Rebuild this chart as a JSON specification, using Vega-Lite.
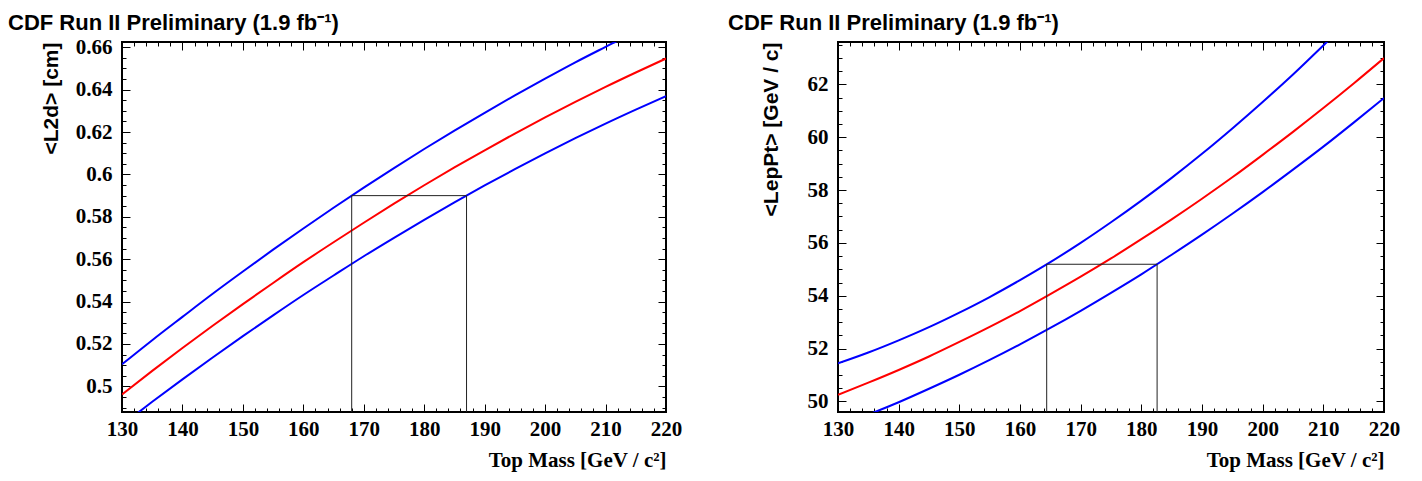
{
  "$schema": "https://vega.github.io/schema/vega-lite/v6.json",
  "background": "white",
  "padding": {"left": 7, "top": 10, "right": 5, "bottom": 5},
  "spacing": 172,
  "bounds": "flush",
  "config": {
    "view": {"stroke": "black", "strokeWidth": 2},
    "axis": {"labelFont": "Liberation Serif", "labelFontWeight": "bold", "labelFontSize": 21, "labelColor": "black", "grid": false, "tickColor": "black", "titleColor": "black", "labelFlush": false, "labelOverlap": false}
  },
  "datasets": {
    "l2d": [
      {"m":130,"v":0.4962,"c":"central"},{"m":135,"v":0.5073,"c":"central"},{"m":140,"v":0.5181,"c":"central"},{"m":145,"v":0.5286,"c":"central"},{"m":150,"v":0.5388,"c":"central"},{"m":155,"v":0.5488,"c":"central"},{"m":160,"v":0.5586,"c":"central"},{"m":165,"v":0.568,"c":"central"},{"m":170,"v":0.5772,"c":"central"},{"m":175,"v":0.5862,"c":"central"},{"m":180,"v":0.5949,"c":"central"},{"m":185,"v":0.6033,"c":"central"},{"m":190,"v":0.6114,"c":"central"},{"m":195,"v":0.6193,"c":"central"},{"m":200,"v":0.6269,"c":"central"},{"m":205,"v":0.6342,"c":"central"},{"m":210,"v":0.6413,"c":"central"},{"m":215,"v":0.6481,"c":"central"},{"m":220,"v":0.6547,"c":"central"},
      {"m":130,"v":0.5104,"c":"upper"},{"m":135,"v":0.5218,"c":"upper"},{"m":140,"v":0.5328,"c":"upper"},{"m":145,"v":0.5437,"c":"upper"},{"m":150,"v":0.5542,"c":"upper"},{"m":155,"v":0.5645,"c":"upper"},{"m":160,"v":0.5745,"c":"upper"},{"m":165,"v":0.5843,"c":"upper"},{"m":170,"v":0.5938,"c":"upper"},{"m":175,"v":0.603,"c":"upper"},{"m":180,"v":0.612,"c":"upper"},{"m":185,"v":0.6207,"c":"upper"},{"m":190,"v":0.6291,"c":"upper"},{"m":195,"v":0.6373,"c":"upper"},{"m":200,"v":0.6452,"c":"upper"},{"m":205,"v":0.6529,"c":"upper"},{"m":210,"v":0.6602,"c":"upper"},{"m":215,"v":0.6674,"c":"upper"},{"m":220,"v":0.6742,"c":"upper"},
      {"m":130,"v":0.4818,"c":"lower"},{"m":135,"v":0.4927,"c":"lower"},{"m":140,"v":0.5033,"c":"lower"},{"m":145,"v":0.5136,"c":"lower"},{"m":150,"v":0.5237,"c":"lower"},{"m":155,"v":0.5335,"c":"lower"},{"m":160,"v":0.5431,"c":"lower"},{"m":165,"v":0.5523,"c":"lower"},{"m":170,"v":0.5614,"c":"lower"},{"m":175,"v":0.5701,"c":"lower"},{"m":180,"v":0.5786,"c":"lower"},{"m":185,"v":0.5868,"c":"lower"},{"m":190,"v":0.5948,"c":"lower"},{"m":195,"v":0.6025,"c":"lower"},{"m":200,"v":0.6099,"c":"lower"},{"m":205,"v":0.6171,"c":"lower"},{"m":210,"v":0.624,"c":"lower"},{"m":215,"v":0.6306,"c":"lower"},{"m":220,"v":0.637,"c":"lower"}
    ],
    "box_l2d": [
      {"m":168,"v":0.48,"o":1},{"m":168,"v":0.59,"o":2},{"m":187,"v":0.59,"o":3},{"m":187,"v":0.48,"o":4}
    ],
    "leppt": [
      {"m":130,"v":50.25,"c":"central"},{"m":135,"v":50.71,"c":"central"},{"m":140,"v":51.19,"c":"central"},{"m":145,"v":51.7,"c":"central"},{"m":150,"v":52.25,"c":"central"},{"m":155,"v":52.82,"c":"central"},{"m":160,"v":53.42,"c":"central"},{"m":165,"v":54.06,"c":"central"},{"m":170,"v":54.72,"c":"central"},{"m":175,"v":55.41,"c":"central"},{"m":180,"v":56.14,"c":"central"},{"m":185,"v":56.89,"c":"central"},{"m":190,"v":57.67,"c":"central"},{"m":195,"v":58.48,"c":"central"},{"m":200,"v":59.33,"c":"central"},{"m":205,"v":60.2,"c":"central"},{"m":210,"v":61.1,"c":"central"},{"m":215,"v":62.03,"c":"central"},{"m":220,"v":62.99,"c":"central"},
      {"m":130,"v":51.44,"c":"upper"},{"m":135,"v":51.85,"c":"upper"},{"m":140,"v":52.31,"c":"upper"},{"m":145,"v":52.81,"c":"upper"},{"m":150,"v":53.36,"c":"upper"},{"m":155,"v":53.95,"c":"upper"},{"m":160,"v":54.59,"c":"upper"},{"m":165,"v":55.27,"c":"upper"},{"m":170,"v":56.0,"c":"upper"},{"m":175,"v":56.78,"c":"upper"},{"m":180,"v":57.6,"c":"upper"},{"m":185,"v":58.46,"c":"upper"},{"m":190,"v":59.37,"c":"upper"},{"m":195,"v":60.33,"c":"upper"},{"m":200,"v":61.33,"c":"upper"},{"m":205,"v":62.37,"c":"upper"},{"m":210,"v":63.47,"c":"upper"},{"m":215,"v":64.6,"c":"upper"},{"m":220,"v":65.78,"c":"upper"},
      {"m":130,"v":49.05,"c":"lower"},{"m":135,"v":49.5,"c":"lower"},{"m":140,"v":49.97,"c":"lower"},{"m":145,"v":50.48,"c":"lower"},{"m":150,"v":51.01,"c":"lower"},{"m":155,"v":51.57,"c":"lower"},{"m":160,"v":52.16,"c":"lower"},{"m":165,"v":52.78,"c":"lower"},{"m":170,"v":53.43,"c":"lower"},{"m":175,"v":54.11,"c":"lower"},{"m":180,"v":54.81,"c":"lower"},{"m":185,"v":55.55,"c":"lower"},{"m":190,"v":56.31,"c":"lower"},{"m":195,"v":57.1,"c":"lower"},{"m":200,"v":57.92,"c":"lower"},{"m":205,"v":58.77,"c":"lower"},{"m":210,"v":59.64,"c":"lower"},{"m":215,"v":60.55,"c":"lower"},{"m":220,"v":61.48,"c":"lower"}
    ],
    "box_leppt": [
      {"m":164.4,"v":49,"o":1},{"m":164.4,"v":55.19,"o":2},{"m":182.6,"v":55.19,"o":3},{"m":182.6,"v":49,"o":4}
    ]
  },
  "hconcat": [
    {
      "width": 544, "height": 370,
      "title": {"text": "CDF Run II Preliminary (1.9 fb⁻¹)", "anchor": "start", "frame": "group", "dx": -114, "offset": -16, "baseline": "alphabetic", "font": "Liberation Sans", "fontSize": 22, "fontWeight": "bold", "color": "black"},
      "resolve": {"axis": {"x": "independent", "y": "independent"}},
      "layer": [
        {
          "data": {"name": "l2d"},
          "mark": {"type": "line", "clip": true, "strokeWidth": 2, "interpolate": "monotone"},
          "encoding": {
            "x": {"field": "m", "type": "quantitative", "scale": {"domain": [130, 220], "nice": false, "zero": false},
                  "axis": {"orient": "bottom", "values": [130,140,150,160,170,180,190,200,210,220], "format": "d", "ticks": false, "domain": false, "labelPadding": 6, "labelFont": "Liberation Serif", "labelFontWeight": "bold", "labelFontSize": 21,
                           "title": "Top Mass [GeV / c²]", "titleFont": "Liberation Serif", "titleFontWeight": "bold", "titleFontSize": 21, "titleAnchor": "end", "titlePadding": 10}},
            "y": {"field": "v", "type": "quantitative", "scale": {"domain": [0.4879, 0.6625], "nice": false, "zero": false},
                  "axis": {"orient": "left", "values": [0.5,0.52,0.54,0.56,0.58,0.6,0.62,0.64,0.66], "format": ".2~f", "ticks": false, "domain": false, "labelPadding": 10, "labelFont": "Liberation Serif", "labelFontWeight": "bold", "labelFontSize": 21,
                           "title": "<L2d> [cm]", "titleFont": "Liberation Sans", "titleFontWeight": "bold", "titleFontSize": 21, "titleAnchor": "end", "titlePadding": 14}},
            "color": {"field": "c", "type": "nominal", "scale": {"domain": ["lower", "central", "upper"], "range": ["#0000ff", "#ff0000", "#0000ff"]}, "legend": null}
          }
        },
        {
          "data": {"name": "box_l2d"},
          "mark": {"type": "line", "clip": true, "strokeWidth": 1, "color": "#222222"},
          "encoding": {
            "x": {"field": "m", "type": "quantitative", "scale": {"domain": [130, 220], "nice": false, "zero": false},
                  "axis": {"orient": "bottom", "values": [130,140,150,160,170,180,190,200,210,220], "labels": false, "title": null, "domain": false, "tickSize": -8, "tickWidth": 1, "minExtent": 0, "maxExtent": 0}},
            "y": {"field": "v", "type": "quantitative", "scale": {"domain": [0.4879, 0.6625], "nice": false, "zero": false},
                  "axis": {"orient": "left", "values": [0.5,0.52,0.54,0.56,0.58,0.6,0.62,0.64,0.66], "labels": false, "title": null, "domain": false, "tickSize": -8, "tickWidth": 1, "minExtent": 0, "maxExtent": 0}},
            "order": {"field": "o", "type": "quantitative"}
          }
        },
        {
          "data": {"name": "box_l2d"},
          "mark": {"type": "line", "opacity": 0},
          "encoding": {
            "x": {"field": "m", "type": "quantitative", "scale": {"domain": [130, 220], "nice": false, "zero": false},
                  "axis": {"orient": "bottom", "values": [132,134,136,138,142,144,146,148,152,154,156,158,162,164,166,168,172,174,176,178,182,184,186,188,192,194,196,198,202,204,206,208,212,214,216,218], "labels": false, "title": null, "domain": false, "tickSize": -4, "tickWidth": 1, "minExtent": 0, "maxExtent": 0}},
            "y": {"field": "v", "type": "quantitative", "scale": {"domain": [0.4879, 0.6625], "nice": false, "zero": false},
                  "axis": {"orient": "left", "values": [0.49,0.495,0.505,0.51,0.515,0.525,0.53,0.535,0.545,0.55,0.555,0.565,0.57,0.575,0.585,0.59,0.595,0.605,0.61,0.615,0.625,0.63,0.635,0.645,0.65,0.655], "labels": false, "title": null, "domain": false, "tickSize": -4, "tickWidth": 1, "minExtent": 0, "maxExtent": 0}}
          }
        },
        {
          "data": {"name": "box_l2d"},
          "mark": {"type": "line", "opacity": 0},
          "encoding": {
            "x": {"field": "m", "type": "quantitative", "scale": {"domain": [130, 220], "nice": false, "zero": false},
                  "axis": {"orient": "top", "values": [130,140,150,160,170,180,190,200,210,220], "labels": false, "title": null, "domain": false, "tickSize": -8, "tickWidth": 1, "minExtent": 0, "maxExtent": 0}},
            "y": {"field": "v", "type": "quantitative", "scale": {"domain": [0.4879, 0.6625], "nice": false, "zero": false},
                  "axis": {"orient": "right", "values": [0.5,0.52,0.54,0.56,0.58,0.6,0.62,0.64,0.66], "labels": false, "title": null, "domain": false, "tickSize": -8, "tickWidth": 1, "minExtent": 0, "maxExtent": 0}}
          }
        },
        {
          "data": {"name": "box_l2d"},
          "mark": {"type": "line", "opacity": 0},
          "encoding": {
            "x": {"field": "m", "type": "quantitative", "scale": {"domain": [130, 220], "nice": false, "zero": false},
                  "axis": {"orient": "top", "values": [132,134,136,138,142,144,146,148,152,154,156,158,162,164,166,168,172,174,176,178,182,184,186,188,192,194,196,198,202,204,206,208,212,214,216,218], "labels": false, "title": null, "domain": false, "tickSize": -4, "tickWidth": 1, "minExtent": 0, "maxExtent": 0}},
            "y": {"field": "v", "type": "quantitative", "scale": {"domain": [0.4879, 0.6625], "nice": false, "zero": false},
                  "axis": {"orient": "right", "values": [0.49,0.495,0.505,0.51,0.515,0.525,0.53,0.535,0.545,0.55,0.555,0.565,0.57,0.575,0.585,0.59,0.595,0.605,0.61,0.615,0.625,0.63,0.635,0.645,0.65,0.655], "labels": false, "title": null, "domain": false, "tickSize": -4, "tickWidth": 1, "minExtent": 0, "maxExtent": 0}}
          }
        }
      ]
    },
    {
      "width": 546, "height": 370,
      "title": {"text": "CDF Run II Preliminary (1.9 fb⁻¹)", "anchor": "start", "frame": "group", "dx": -110, "offset": -10, "baseline": "alphabetic", "font": "Liberation Sans", "fontSize": 22, "fontWeight": "bold", "color": "black"},
      "resolve": {"axis": {"x": "independent", "y": "independent"}},
      "layer": [
        {
          "data": {"name": "leppt"},
          "mark": {"type": "line", "clip": true, "strokeWidth": 2, "interpolate": "monotone"},
          "encoding": {
            "x": {"field": "m", "type": "quantitative", "scale": {"domain": [130, 220], "nice": false, "zero": false},
                  "axis": {"orient": "bottom", "values": [130,140,150,160,170,180,190,200,210,220], "format": "d", "ticks": false, "domain": false, "labelPadding": 6, "labelFont": "Liberation Serif", "labelFontWeight": "bold", "labelFontSize": 21,
                           "title": "Top Mass [GeV / c²]", "titleFont": "Liberation Serif", "titleFontWeight": "bold", "titleFontSize": 21, "titleAnchor": "end", "titlePadding": 10}},
            "y": {"field": "v", "type": "quantitative", "scale": {"domain": [49.6, 63.6], "nice": false, "zero": false},
                  "axis": {"orient": "left", "values": [50,52,54,56,58,60,62], "format": "d", "ticks": false, "domain": false, "labelPadding": 10, "labelFont": "Liberation Serif", "labelFontWeight": "bold", "labelFontSize": 21,
                           "title": "<LepPt> [GeV / c]", "titleFont": "Liberation Sans", "titleFontWeight": "bold", "titleFontSize": 21, "titleAnchor": "end", "titlePadding": 26}},
            "color": {"field": "c", "type": "nominal", "scale": {"domain": ["lower", "central", "upper"], "range": ["#0000ff", "#ff0000", "#0000ff"]}, "legend": null}
          }
        },
        {
          "data": {"name": "box_leppt"},
          "mark": {"type": "line", "clip": true, "strokeWidth": 1, "color": "#222222"},
          "encoding": {
            "x": {"field": "m", "type": "quantitative", "scale": {"domain": [130, 220], "nice": false, "zero": false},
                  "axis": {"orient": "bottom", "values": [130,140,150,160,170,180,190,200,210,220], "labels": false, "title": null, "domain": false, "tickSize": -8, "tickWidth": 1, "minExtent": 0, "maxExtent": 0}},
            "y": {"field": "v", "type": "quantitative", "scale": {"domain": [49.6, 63.6], "nice": false, "zero": false},
                  "axis": {"orient": "left", "values": [50,52,54,56,58,60,62], "labels": false, "title": null, "domain": false, "tickSize": -8, "tickWidth": 1, "minExtent": 0, "maxExtent": 0}},
            "order": {"field": "o", "type": "quantitative"}
          }
        },
        {
          "data": {"name": "box_leppt"},
          "mark": {"type": "line", "opacity": 0},
          "encoding": {
            "x": {"field": "m", "type": "quantitative", "scale": {"domain": [130, 220], "nice": false, "zero": false},
                  "axis": {"orient": "bottom", "values": [132,134,136,138,142,144,146,148,152,154,156,158,162,164,166,168,172,174,176,178,182,184,186,188,192,194,196,198,202,204,206,208,212,214,216,218], "labels": false, "title": null, "domain": false, "tickSize": -4, "tickWidth": 1, "minExtent": 0, "maxExtent": 0}},
            "y": {"field": "v", "type": "quantitative", "scale": {"domain": [49.6, 63.6], "nice": false, "zero": false},
                  "axis": {"orient": "left", "values": [50.5,51,51.5,52.5,53,53.5,54.5,55,55.5,56.5,57,57.5,58.5,59,59.5,60.5,61,61.5,62.5,63,63.5], "labels": false, "title": null, "domain": false, "tickSize": -4, "tickWidth": 1, "minExtent": 0, "maxExtent": 0}}
          }
        },
        {
          "data": {"name": "box_leppt"},
          "mark": {"type": "line", "opacity": 0},
          "encoding": {
            "x": {"field": "m", "type": "quantitative", "scale": {"domain": [130, 220], "nice": false, "zero": false},
                  "axis": {"orient": "top", "values": [130,140,150,160,170,180,190,200,210,220], "labels": false, "title": null, "domain": false, "tickSize": -8, "tickWidth": 1, "minExtent": 0, "maxExtent": 0}},
            "y": {"field": "v", "type": "quantitative", "scale": {"domain": [49.6, 63.6], "nice": false, "zero": false},
                  "axis": {"orient": "right", "values": [50,52,54,56,58,60,62], "labels": false, "title": null, "domain": false, "tickSize": -8, "tickWidth": 1, "minExtent": 0, "maxExtent": 0}}
          }
        },
        {
          "data": {"name": "box_leppt"},
          "mark": {"type": "line", "opacity": 0},
          "encoding": {
            "x": {"field": "m", "type": "quantitative", "scale": {"domain": [130, 220], "nice": false, "zero": false},
                  "axis": {"orient": "top", "values": [132,134,136,138,142,144,146,148,152,154,156,158,162,164,166,168,172,174,176,178,182,184,186,188,192,194,196,198,202,204,206,208,212,214,216,218], "labels": false, "title": null, "domain": false, "tickSize": -4, "tickWidth": 1, "minExtent": 0, "maxExtent": 0}},
            "y": {"field": "v", "type": "quantitative", "scale": {"domain": [49.6, 63.6], "nice": false, "zero": false},
                  "axis": {"orient": "right", "values": [50.5,51,51.5,52.5,53,53.5,54.5,55,55.5,56.5,57,57.5,58.5,59,59.5,60.5,61,61.5,62.5,63,63.5], "labels": false, "title": null, "domain": false, "tickSize": -4, "tickWidth": 1, "minExtent": 0, "maxExtent": 0}}
          }
        }
      ]
    }
  ]
}
